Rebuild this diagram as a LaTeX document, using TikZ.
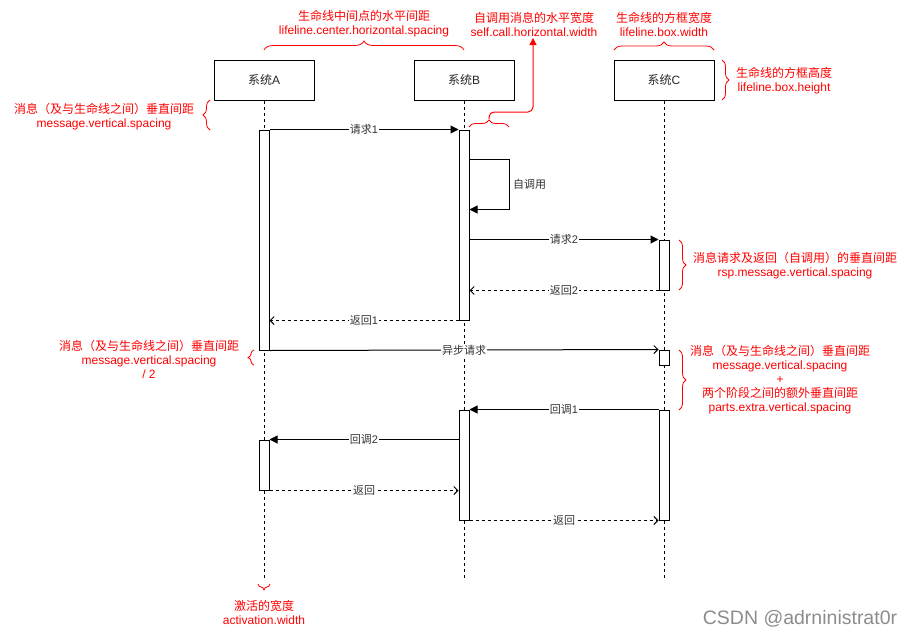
\documentclass[tikz,border=0pt]{standalone}
\usepackage{fontspec}
\setmainfont{Liberation Sans}
\newfontfamily\cjk{Noto Sans CJK SC}
\usetikzlibrary{arrows.meta,decorations.pathreplacing,calc}
\begin{document}
\begin{tikzpicture}[x=1pt,y=-1pt,line width=1pt,
 lbox/.style={draw, minimum width=100pt, minimum height=40pt, inner sep=0pt, font=\fontsize{12}{14}\selectfont, text=black!85},
 act/.style={draw, fill=white, minimum width=10pt, inner sep=0pt},
 life/.style={dash pattern=on 3pt off 3pt, line width=0.9pt},
 msg/.style={-{Triangle[length=8pt,width=8pt]}},
 ret/.style={dash pattern=on 3pt off 3pt, -{Straight Barb[length=4pt,width=8pt]}},
 asyncmsg/.style={-{Straight Barb[length=4pt,width=8pt]}},
 mlabel/.style={fill=white, inner sep=1pt, font=\fontsize{11}{13}\selectfont, text=black!80},
 note/.style={text=red, font=\fontsize{12}{14}\selectfont, align=center, inner sep=0pt},
 rbrace/.style={red, line width=0.8pt, decorate, decoration={brace, amplitude=#1}},
]
\useasboundingbox (0,0) rectangle (915,637);

% lifeline boxes
\node[lbox] (A) at (264,80) {{\cjk 系统}A};
\node[lbox] (B) at (464,80) {{\cjk 系统}B};
\node[lbox] (C) at (664,80) {{\cjk 系统}C};

% lifelines
\coordinate (Aend) at (264,578);
\coordinate (Bend) at (464,578);
\coordinate (Cend) at (664,578);
\draw[life] (A.south) -- (Aend);
\draw[life] (B.south) -- (Bend);
\draw[life] (C.south) -- (Cend);

% activations
\node[act, minimum height=220pt] (A1) at (264,240) {};
\node[act, minimum height=50pt]  (A2) at (264,465) {};
\node[act, minimum height=190pt] (B1) at (464,225) {};
\node[act, minimum height=110pt] (B2) at (464,465) {};
\node[act, minimum height=50pt]  (C1) at (664,265) {};
\node[act, minimum height=15pt]  (C2) at (664,357.5) {};
\node[act, minimum height=110pt] (C3) at (664,465) {};

% messages
\draw[msg] (A1.north east) -- node[mlabel]{{\cjk 请求}1} (B1.north west);
\coordinate (s1) at ([yshift=-30pt]B1.north east);
\coordinate (s2) at ([yshift=-80pt]B1.north east);
\draw[msg] (s1) -- ++(40,0) -- ++(0,50) node[mlabel, fill=none, midway, anchor=west, xshift=2pt]{\cjk 自调用} -- (s2);
\draw[msg] (B1.east |- C1.north west) -- node[mlabel]{{\cjk 请求}2} (C1.north west);
\draw[ret] (C1.south west) -- node[mlabel]{{\cjk 返回}2} (B1.east |- C1.south west);
\draw[ret] (B1.south west) -- node[mlabel]{{\cjk 返回}1} (A1.east |- B1.south west);
\draw[asyncmsg] (A1.south east) -- node[mlabel]{\cjk 异步请求} (C2.north west);
\draw[msg] (C3.north west) -- node[mlabel]{{\cjk 回调}1} (B2.north east);
\draw[msg] (B2.west |- A2.north east) -- node[mlabel]{{\cjk 回调}2} (A2.north east);
\draw[ret] (A2.south east) -- node[mlabel]{\cjk 返回} (B2.west |- A2.south east);
\draw[ret] (B2.south east) -- node[mlabel]{\cjk 返回} (C3.south west);

% annotations
\draw[rbrace=9pt] (264,50) -- (464,50);
\node[note] (n1) at (364,24) {{\cjk 生命线中间点的水平间距}\\lifeline.center.horizontal.spacing};

\draw[rbrace=7pt] (469,127) -- (509,127);
\node[note] (n2) at (534,24) {{\cjk 自调用消息的水平宽度}\\self.call.horizontal.width};
\coordinate (sc1) at (489,119);
\coordinate (sc2) at (533,38);
\draw[red, line width=1pt, rounded corners=5pt, -{Triangle[length=7pt,width=7pt]}] (sc1) -- (489,112) -- (533,112) -- (sc2);

\draw[rbrace=8pt] (614,50) -- (714,50);
\node[note] (n3) at (664,24) {{\cjk 生命线的方框宽度}\\lifeline.box.width};

\draw[rbrace=7pt] (722,60) -- (722,100);
\node[note] (n4) at (784,80.5) {{\cjk 生命线的方框高度}\\lifeline.box.height};

\draw[rbrace=7pt] (210,130) -- (210,100);
\node[note] (n5) at (104,117) {{\cjk 消息（及与生命线之间）垂直间距}\\message.vertical.spacing};

\draw[rbrace=7pt] (679,240) -- (679,290);
\node[note] (n6) at (795,265.5) {{\cjk 消息请求及返回（自调用）的垂直间距}\\rsp.message.vertical.spacing};

\draw[rbrace=6pt] (254,365) -- (254,350);
\node[note] (n7) at (149,359) {{\cjk 消息（及与生命线之间）垂直间距}\\message.vertical.spacing\\/ 2};

\draw[rbrace=7pt] (679,350) -- (679,410);
\node[note] (n8) at (780,380) {{\cjk 消息（及与生命线之间）垂直间距}\\message.vertical.spacing\\+\\{\cjk 两个阶段之间的额外垂直间距}\\parts.extra.vertical.spacing};

\draw[rbrace=6pt] (270,584) -- (258,584);
\node[note] (n9) at (264,612) {{\cjk 激活的宽度}\\activation.width};

\node[text=black!45, font=\fontsize{19.5}{22}\selectfont, inner sep=0pt] (wm) at (800,619) {CSDN @adrninistrat0r};
\end{tikzpicture}
\end{document}
